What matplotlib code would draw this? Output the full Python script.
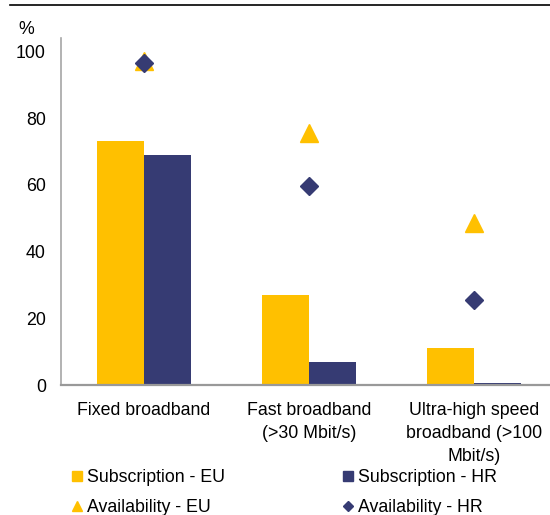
import matplotlib
matplotlib.use("Agg")
import matplotlib.pyplot as plt
from matplotlib.lines import Line2D
import numpy as np

plt.rcParams['font.family'] = ['Liberation Sans', 'DejaVu Sans']

categories = ["Fixed broadband", "Fast broadband\n(>30 Mbit/s)",
              "Ultra-high speed\nbroadband (>100\nMbit/s)"]
subscription_eu = [73, 27, 11]
subscription_hr = [69, 7, 0.5]
availability_eu = [97, 75.5, 48.5]
availability_hr = [96.5, 59.5, 25.5]
yticks = [0, 20, 40, 60, 80, 100]

YELLOW = "#FFC000"
NAVY = "#363B73"
FS = 12.8

fig = plt.figure(figsize=(5.5, 5.15), dpi=100)
ax = fig.add_axes([0.111, 0.2524, 0.889, 0.674])

x = np.arange(len(categories))
w = 0.285
ax.bar(x - w / 2, subscription_eu, width=w, color=YELLOW, zorder=2)
ax.bar(x + w / 2, subscription_hr, width=w, color=NAVY, zorder=2)
ax.plot(x, availability_eu, linestyle="none", marker="^", markersize=13,
        color=YELLOW, zorder=3)
ax.plot(x, availability_hr, linestyle="none", marker="D", markersize=9.5,
        color=NAVY, zorder=4)

ax.set_xlim(-0.502, 2.458)
ax.set_ylim(0, 104)
ax.set_yticks(yticks)
ax.set_yticklabels([str(t) for t in yticks], fontsize=FS)
ax.set_xticks(x)
ax.set_xticklabels(categories, fontsize=FS, linespacing=1.48)
ax.tick_params(axis="both", length=0)
ax.tick_params(axis="y", pad=11)
ax.tick_params(axis="x", pad=12)

for s in ("top", "right"):
    ax.spines[s].set_visible(False)
ax.spines["left"].set_color("#A6A6A6")
ax.spines["left"].set_linewidth(1.2)
ax.spines["bottom"].set_color("#999999")
ax.spines["bottom"].set_linewidth(1.6)

fig.text(18 / 550, 1 - 30 / 515, "%", fontsize=FS, ha="left", va="center")

# rule across the top of the figure
fig.add_artist(Line2D([10 / 550, 1.0], [1 - 5 / 515, 1 - 5 / 515],
                      color="black", linewidth=1.2))

handles = [
    Line2D([], [], linestyle="none", marker="s", markersize=7.5, color=YELLOW),
    Line2D([], [], linestyle="none", marker="^", markersize=7, color=YELLOW),
    Line2D([], [], linestyle="none", marker="s", markersize=7.5, color=NAVY),
    Line2D([], [], linestyle="none", marker="D", markersize=5, color=NAVY),
]
labels = ["Subscription - EU", "Availability - EU",
          "Subscription - HR", "Availability - HR"]
fig.legend(handles, labels, ncol=2, loc="upper left",
           bbox_to_anchor=(72 / 550, 1 - 469 / 515), frameon=False,
           fontsize=FS, handlelength=0.6, handletextpad=0.25,
           columnspacing=6.6, labelspacing=0.75, borderaxespad=0,
           borderpad=0)

fig.savefig("out.png", dpi=100)
